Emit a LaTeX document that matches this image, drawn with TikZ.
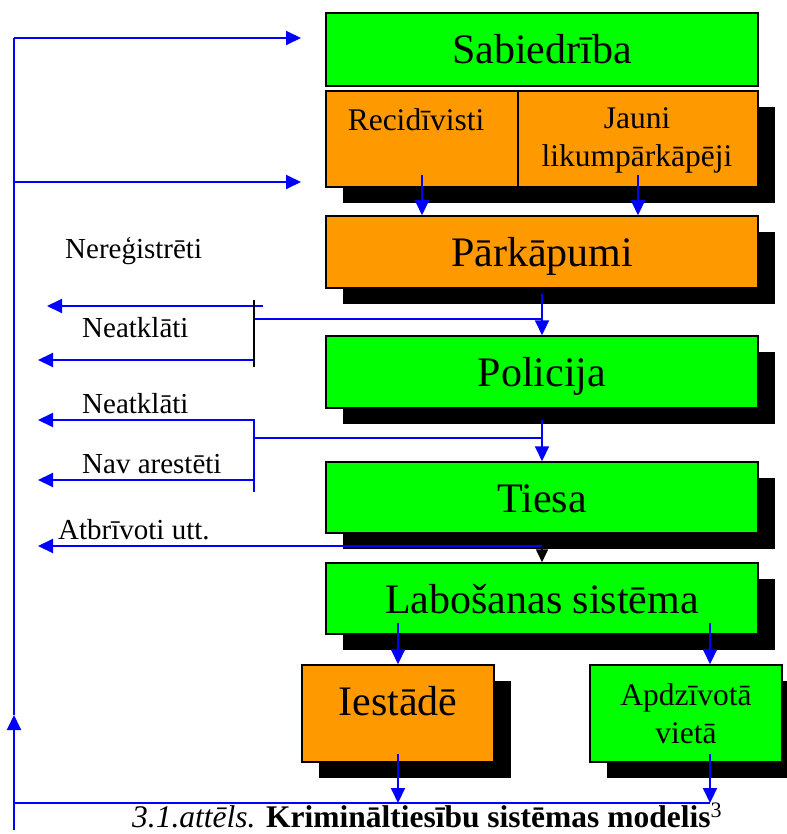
\documentclass[tikz,border=0pt]{standalone}
\usepackage{fontspec}
\setmainfont{Liberation Serif}
\usetikzlibrary{arrows.meta,shadows}
\begin{document}
\begin{tikzpicture}[x=1pt,y=-1pt,
  boxbase/.style={draw=black,line width=1.5pt,inner sep=0pt},
  box/.style={boxbase,text height=29pt,text depth=0pt,font=\fontsize{42}{48}\selectfont},
  shadowed/.style={drop shadow={shadow xshift=17pt,shadow yshift=-16pt,fill=black,opacity=1}},
  green box/.style={box,fill=green1},
  orange box/.style={box,fill=orange1},
  smalltext/.style={inner sep=0pt,font=\fontsize{31.5}{38}\selectfont,align=center},
  sidetext/.style={inner sep=0pt,anchor=base west,font=\fontsize{29}{34}\selectfont},
  flow/.style={draw=blue1,line width=2pt},
  arr/.style={flow,-{Triangle[length=15pt,width=14pt]}},
  thin flow/.style={draw=blue1,line width=1.6pt},
]
\definecolor{green1}{HTML}{00FF00}
\definecolor{orange1}{HTML}{FF9900}
\definecolor{blue1}{HTML}{0000FF}
\useasboundingbox (0,0) rectangle (786,834);

% main column of boxes
\node[green box,minimum width=432pt,minimum height=73pt] (sab) at (542,49.5) {Sabiedrība};
\node[orange box,shadowed,minimum width=192pt,minimum height=96pt] (rec) at (422,139) {};
\node[orange box,shadowed,minimum width=240pt,minimum height=96pt] (jau) at (638,139) {};
\node[smalltext,anchor=base] (recT) at (416,131) {Recidīvisti};
\node[smalltext,anchor=base] (jauT) at (637,167) {Jauni\\likumpārkāpēji};
\node[orange box,shadowed,minimum width=432pt,minimum height=72pt] (park) at (542,252) {Pārkāpumi};
\node[green box,shadowed,minimum width=432pt,minimum height=72pt] (pol) at (542,372) {Policija};
\node[green box,shadowed,minimum width=432pt,minimum height=71pt] (ties) at (542,497.5) {Tiesa};
\node[green box,shadowed,minimum width=432pt,minimum height=71pt] (lab) at (542,598.5) {Labošanas sistēma};
\node[orange box,shadowed,minimum width=192pt,minimum height=97pt,text depth=26pt] (iest) at (398,713.5) {Iestādē};
\node[boxbase,fill=green1,shadowed,minimum width=192pt,minimum height=97pt,
      font=\fontsize{31.5}{38}\selectfont,align=center] (apdz) at (686,713.5) {Apdzīvotā\\vietā};

% side labels
\node[sidetext] (nereg) at (65,258) {Nereģistrēti};
\node[sidetext] (neat1) at (82,337) {Neatklāti};
\node[sidetext] (neat2) at (82,413) {Neatklāti};
\node[sidetext] (nav) at (82,473) {Nav arestēti};
\node[sidetext] (atbr) at (58,539) {Atbrīvoti utt.};

% feedback loop coordinates
\coordinate (loopTop) at (14,38);
\coordinate (loopMid) at (14,182);
\coordinate (loopArr) at (14,715);
\coordinate (loopEnd) at (14,830);
\coordinate (loopBot) at (14,803);
\coordinate (sabIn) at (301,38);
\coordinate (recIn) at (301,182);

\draw[flow] (loopArr) -- (loopTop);
\draw[arr] (loopEnd) -- (loopArr);
\draw[arr] (loopTop) -- (sabIn);
\draw[arr] (loopMid) -- (recIn);

% offenders to offences
\draw[arr] ([yshift=13pt]rec.south) -- (rec.south |- park.north);
\draw[arr] ([yshift=13pt]jau.south) -- (jau.south |- park.north);

% offences to police, with the unregistered / unsolved branch
\coordinate (b1) at (254,319);
\coordinate (b1top) at (254,300);
\coordinate (b1bot) at (254,367);
\coordinate (b1a) at (263,306);
\coordinate (b1aEnd) at (47,306);
\coordinate (b1b) at (254,360);
\coordinate (b1bEnd) at (38,360);
\draw[arr] ([yshift=-5pt]park.south) -- (pol.north);
\draw[thin flow] (b1) -- (b1 -| pol.north);
\draw[arr] (b1a) -- (b1aEnd);
\draw[arr] (b1b) -- (b1bEnd);
\draw[black,line width=1.6pt] (b1top) -- (b1bot);

% police to court, with the unsolved / not arrested branch
\coordinate (b2) at (254,438);
\coordinate (b2top) at (254,419);
\coordinate (b2bot) at (254,492);
\coordinate (b2a) at (254,420);
\coordinate (b2aEnd) at (38,420);
\coordinate (b2b) at (254,480);
\coordinate (b2bEnd) at (38,480);
\draw[arr] ([yshift=-11pt]pol.south) -- (ties.north);
\draw[thin flow] (b2) -- (b2 -| ties.north);
\draw[thin flow] (b2top) -- (b2bot);
\draw[arr] (b2a) -- (b2aEnd);
\draw[arr] (b2b) -- (b2bEnd);

% court to correction system, with the released branch
\coordinate (b3) at (542,546);
\coordinate (b3End) at (38,546);
\draw[arr] (b3) -- (b3End);
\draw[black,line width=1.6pt,-{Triangle[length=13pt,width=12pt]}] (b3) -- (lab.north);

% correction system to its two forms
\coordinate (apdzIn) at ([xshift=24pt]apdz.north);
\draw[arr] (iest.north |- lab.south) ++(0,-12) -- (iest.north);
\draw[arr] (apdzIn |- lab.south) ++(0,-12) -- (apdzIn);

% back to society
\coordinate (iestOut) at (398,803);
\coordinate (apdzOut) at (710,803);
\draw[flow] (loopBot) -- (apdzOut);
\draw[arr] ([yshift=9pt]iest.south) -- (iestOut);
\draw[arr] ([yshift=9pt]apdzIn |- apdz.south) -- (apdzOut);

% caption
\node[inner sep=0pt,anchor=base west,font=\fontsize{31.5}{38}\selectfont] (cap) at (132,827)
  {\itshape 3.1.attēls. \upshape\bfseries Krimināltiesību sistēmas modelis\textsuperscript{\mdseries 3}};
\end{tikzpicture}
\end{document}
